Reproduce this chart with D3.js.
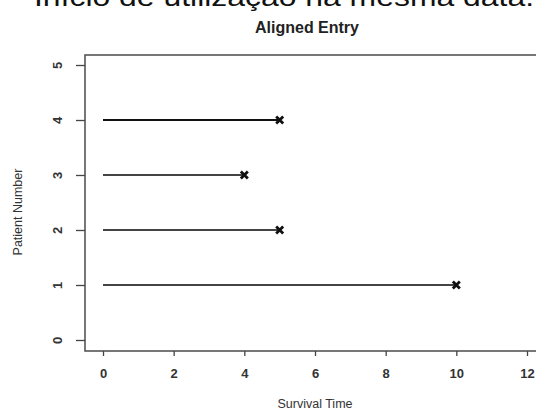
<!DOCTYPE html>
<html>
<head>
<meta charset="utf-8">
<script src="https://cdn.jsdelivr.net/npm/d3@7"></script>
<style>
  body { margin: 0; background: #fff; }
  svg { display: block; font-family: "Liberation Sans", Arial, sans-serif; }
</style>
</head>
<body>
<svg id="chart"></svg>
<script>
// chart data
var patients = [1, 2, 3, 4];
var survival = [10, 5, 4, 5];
var xTicks = [0, 2, 4, 6, 8, 10, 12];
var yTicks = [0, 1, 2, 3, 4, 5];

var W = 536, H = 412;
var svg = d3.select("#chart").attr("width", W).attr("height", H);

// plot box (right side runs off the picture)
var box = { left: 85, top: 55, right: 548, bottom: 351 };

var x = d3.scaleLinear().domain([0, 12]).range([103, 527]);
var y = d3.scaleLinear().domain([0, 5]).range([340, 65]);

// caption at the very top (cropped in the scan)
svg.append("text")
    .attr("x", 34)
    .attr("y", 6)
    .attr("font-size", 26)
    .attr("textLength", 500)
    .attr("lengthAdjust", "spacingAndGlyphs")
    .attr("fill", "#111")
    .text("Início de utilização na mesma data.");

// title
svg.append("text")
    .attr("x", 307)
    .attr("y", 33)
    .attr("text-anchor", "middle")
    .attr("font-size", 16)
    .attr("font-weight", "bold")
    .attr("fill", "#222")
    .text("Aligned Entry");

// frame
svg.append("rect")
    .attr("x", box.left)
    .attr("y", box.top)
    .attr("width", box.right - box.left)
    .attr("height", box.bottom - box.top)
    .attr("fill", "none")
    .attr("stroke", "#555")
    .attr("stroke-width", 1.6);

// x axis
var xAxis = svg.append("g")
    .attr("transform", `translate(0,${box.bottom})`)
    .call(d3.axisBottom(x).tickValues(xTicks).tickSize(5).tickPadding(13));
xAxis.select(".domain").remove();
xAxis.selectAll("line").attr("stroke", "#444").attr("stroke-width", 1.3);
xAxis.selectAll("text")
    .attr("font-size", 13)
    .attr("font-weight", "bold")
    .attr("fill", "#333")
    .attr("font-family", "Liberation Sans, Arial, sans-serif");

// y axis, labels parallel to axis (R style)
var yAxis = svg.append("g")
    .attr("transform", `translate(${box.left},0)`)
    .call(d3.axisLeft(y).tickValues(yTicks).tickFormat(d3.format("d")).tickSize(9).tickPadding(0));
yAxis.select(".domain").remove();
yAxis.selectAll("line").attr("stroke", "#444").attr("stroke-width", 1.3);
yAxis.selectAll("text")
    .attr("x", null)
    .attr("dy", null)
    .attr("text-anchor", "middle")
    .attr("transform", "translate(-23,0) rotate(-90)")
    .attr("font-size", 13)
    .attr("font-weight", "bold")
    .attr("fill", "#333")
    .attr("font-family", "Liberation Sans, Arial, sans-serif");

// axis titles
svg.append("text")
    .attr("x", 315)
    .attr("y", 408)
    .attr("text-anchor", "middle")
    .attr("font-size", 12.5)
    .attr("fill", "#333")
    .text("Survival Time");

svg.append("text")
    .attr("transform", "translate(22,212) rotate(-90)")
    .attr("text-anchor", "middle")
    .attr("font-size", 12.5)
    .attr("fill", "#333")
    .text("Patient Number");

// survival segments
var rows = patients.map((p, i) => ({ p: p, t: survival[i] }));

svg.selectAll(".seg")
    .data(rows)
    .enter().append("line")
    .attr("class", "seg")
    .attr("x1", x(0))
    .attr("x2", d => x(d.t))
    .attr("y1", d => y(d.p))
    .attr("y2", d => y(d.p))
    .attr("stroke", d => d.p === 4 ? "#111" : "#444")
    .attr("stroke-width", 2);

// death markers (x)
var s = 3.5;
svg.selectAll(".mark")
    .data(rows)
    .enter().append("path")
    .attr("class", "mark")
    .attr("d", d => {
        var cx = x(d.t), cy = y(d.p);
        return `M${cx - s},${cy - s}L${cx + s},${cy + s}M${cx - s},${cy + s}L${cx + s},${cy - s}`;
    })
    .attr("stroke", "#111")
    .attr("stroke-width", 2.8);
</script>
</body>
</html>
